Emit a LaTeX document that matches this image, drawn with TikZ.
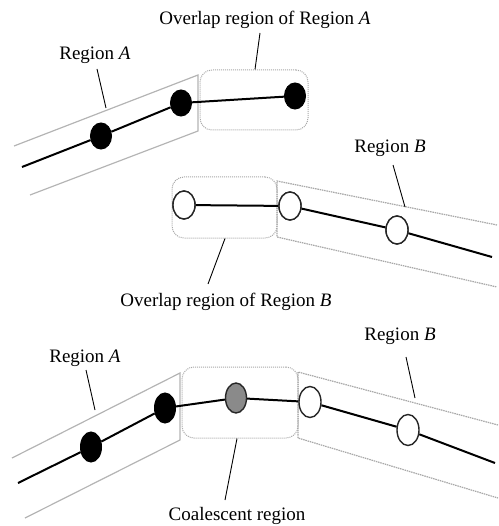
\documentclass[tikz,border=0pt]{standalone}
\usepackage{fontspec}
\setmainfont{Liberation Serif}
\usetikzlibrary{shapes.geometric}
\definecolor{stripgray}{HTML}{B4B4B4}
\definecolor{boxgray}{HTML}{A8A8A8}
\definecolor{coalgray}{HTML}{8A8A8A}
\begin{document}
\begin{tikzpicture}[x=1pt,y=-1pt,
  lbl/.style={font=\fontsize{19}{22}\selectfont, inner sep=0pt, anchor=base},
  leader/.style={draw=black, line width=0.9pt},
  chain/.style={draw=black, line width=2pt},
  solidpt/.style={ellipse, draw=black, fill=black, line width=1pt, inner sep=0pt, minimum width=21pt, minimum height=26pt},
  hollowpt/.style={ellipse, draw=black!85, fill=white, line width=1.4pt, inner sep=0pt, minimum width=22pt, minimum height=28pt},
  mergedpt/.style={ellipse, draw=black!85, fill=coalgray, line width=1.4pt, inner sep=0pt, minimum width=21pt, minimum height=30pt},
  stripA/.style={draw=stripgray, line width=1.2pt},
  stripB/.style={draw=boxgray, line width=1.2pt, dash pattern=on 1.5pt off 0.8pt},
  overlapbox/.style={rectangle, draw=boxgray, line width=1pt, dash pattern=on 1pt off 1pt, rounded corners=12pt, inner sep=0pt}
]
\useasboundingbox (0,0) rectangle (498,526);

% ---------- upper: Region A with its overlap region ----------
\draw[stripA] (14,146) -- (198,75) -- (198,131) -- (30,195);
\node[overlapbox, minimum width=108pt, minimum height=60pt] (ovA) at (254,100) {};
\coordinate (aStart) at (22,167);
\node[solidpt] (a1) at (101,136) {};
\node[solidpt] (a2) at (181,103) {};
\node[solidpt] (a3) at (295,96) {};
\draw[chain] (aStart) -- (a1) -- (a2) -- (a3);

\node[lbl] (labA) at (95,60) {Region \textit{A}};
\coordinate (labAend) at (106,108);
\draw[leader] (97,69) -- (labAend);
\node[lbl] (labOvA) at (265,25) {Overlap region of Region \textit{A}};
\draw[leader] (260,33) -- (ovA.north -| 255,0);

% ---------- middle: Region B with its overlap region ----------
\draw[stripB] (497,225) -- (277,181) -- (277,237) -- (497,287);
\node[overlapbox, minimum width=105pt, minimum height=61pt] (ovB) at (224.5,207.5) {};
\node[hollowpt] (b1) at (184,205) {};
\node[hollowpt] (b2) at (290,206) {};
\node[hollowpt] (b3) at (397,230) {};
\coordinate (bEnd) at (492,257);
\draw[chain] (b1) -- (b2) -- (b3) -- (bEnd);
\node[hollowpt] at (b1) {};
\node[hollowpt] at (b2) {};
\node[hollowpt] at (b3) {};

\node[lbl] (labB) at (390,153) {Region \textit{B}};
\coordinate (labBend) at (405,207);
\draw[leader] (393,165) -- (labBend);
\node[lbl] (labOvB) at (226,306) {Overlap region of Region \textit{B}};
\draw[leader] (ovB.south -| 225,0) -- (208,284);

% ---------- lower: coalesced result ----------
\draw[stripA] (12,458) -- (180,373) -- (180,440) -- (25,518);
\draw[stripB] (498,425) -- (298,372) -- (298,438) -- (498,498);
\node[overlapbox, minimum width=116pt, minimum height=71pt] (coal) at (240,402.5) {};
\coordinate (cStart) at (18,483);
\node[solidpt, minimum height=30pt] (c1) at (91,447) {};
\node[solidpt, minimum height=30pt] (c2) at (165,408) {};
\node[mergedpt] (cg) at (236,398) {};
\node[hollowpt, minimum height=31pt] (d1) at (310,402) {};
\node[hollowpt, minimum height=31pt] (d2) at (408,430) {};
\coordinate (dEnd) at (495,463);
\draw[chain] (cStart) -- (c1) -- (c2) -- (cg) -- (d1) -- (d2) -- (dEnd);

\node[lbl] (labA2) at (85,362) {Region \textit{A}};
\coordinate (labA2end) at (95,410);
\draw[leader] (86,370) -- (labA2end);
\node[lbl] (labB2) at (400,340) {Region \textit{B}};
\coordinate (labB2end) at (415,398);
\draw[leader] (406,357) -- (labB2end);
\node[lbl] (labCoal) at (237,520) {Coalescent region};
\draw[leader] (coal.south -| 237,0) -- (225,500);
\end{tikzpicture}
\end{document}
